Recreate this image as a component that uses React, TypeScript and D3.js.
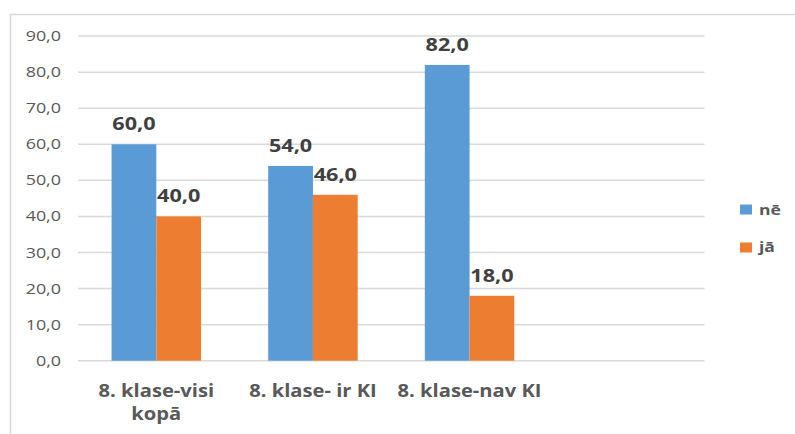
import React from "react";
import * as d3 from "d3";

const categories = ["8. klase-visi kopā", "8. klase- ir KI", "8. klase-nav KI", ""];
const seriesNames = ["nē", "jā"];
const neValues = [60.0, 54.0, 82.0];
const jaValues = [40.0, 46.0, 18.0];
const yTicks = [0, 10, 20, 30, 40, 50, 60, 70, 80, 90];

const colors = ["#5B9BD5", "#ED7D31"];
const seriesValues = [neValues, jaValues];

const W = 795;
const H = 434;
const FONT = "'Open Sans', 'Segoe UI', sans-serif";

function wrapLabel(s: string, maxChars: number): string[] {
  if (s.length <= maxChars) return [s];
  const idx = s.lastIndexOf(" ", maxChars);
  if (idx <= 0) return [s];
  return [s.slice(0, idx), s.slice(idx + 1)];
}

const fmt = (v: number) => v.toFixed(1).replace(".", ",");

export default function App() {
  const x0 = d3.scaleBand<string>().domain(categories.map((c, i) => String(i))).range([78, 704.5]).paddingInner(0).paddingOuter(0);
  const x1 = d3.scaleBand<string>().domain(seriesNames).range([0, x0.bandwidth()]).paddingInner(0).paddingOuter(0.75);
  const y = d3.scaleLinear().domain([0, 90]).range([360.7, 36.1]);

  return (
    <svg width={W} height={H} style={{ position: "absolute", left: 0, top: 0, background: "#fff" }}>
      <rect x={10.5} y={14.5} width={W + 20} height={H + 20} fill="#fff" stroke="#D9D9D9" strokeWidth={1.5} />
      {yTicks.map((t) => (
        <g key={t}>
          <line x1={78} x2={704.5} y1={y(t)} y2={y(t)} stroke="#D9D9D9" strokeWidth={1.5} />
          <text
            transform={`translate(61,${y(t) + 5}) scale(1.28,1)`}
            textAnchor="end"
            fontFamily={FONT}
            fontSize={14}
            fill="#595959"
          >
            {fmt(t)}
          </text>
        </g>
      ))}
      {seriesValues.map((vals, si) =>
        vals.map((v, ci) => {
          const bx = (x0(String(ci)) as number) + (x1(seriesNames[si]) as number);
          const bw = x1.bandwidth();
          return (
            <g key={`${si}-${ci}`}>
              <rect x={bx} y={y(v)} width={bw} height={y(0) - y(v)} fill={colors[si]} />
              <text
                transform={`translate(${bx + bw / 2},${y(v) - 14}) scale(1.17,1)`}
                textAnchor="middle"
                fontFamily={FONT}
                fontWeight={700}
                fontSize={18.5}
                fill="#404040"
              >
                {fmt(v)}
              </text>
            </g>
          );
        })
      )}
      {categories.map((c, ci) => {
        const cx = (x0(String(ci)) as number) + x0.bandwidth() / 2;
        const lines = wrapLabel(c, 15);
        return lines.map((ln, li) => (
          <text
            key={`${ci}-${li}`}
            transform={`translate(${cx},${397 + li * 23}) scale(1.12,1)`}
            textAnchor="middle"
            fontFamily={FONT}
            fontWeight={700}
            fontSize={18}
            fill="#595959"
          >
            {ln}
          </text>
        ));
      })}
      {seriesNames.map((s, si) => (
        <g key={s}>
          <rect x={740} y={[204.5, 242.5][si]} width={12} height={10} fill={colors[si]} />
          <text
            transform={`translate(759,${[215, 252][si]}) scale(1.17,1)`}
            fontFamily={FONT}
            fontWeight={700}
            fontSize={15}
            fill="#595959"
          >
            {s}
          </text>
        </g>
      ))}
    </svg>
  );
}
